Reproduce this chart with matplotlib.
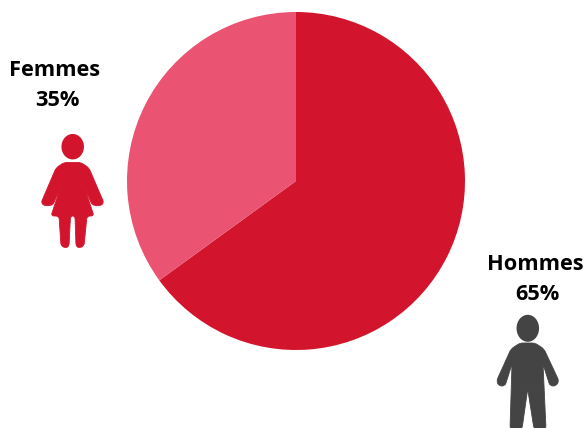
import math

import matplotlib
matplotlib.use("Agg")
import matplotlib.pyplot as plt
from matplotlib.patches import Ellipse, PathPatch
from matplotlib.path import Path

labels = ["Hommes", "Femmes"]
shares = [65, 35]
colors = ["#D2152D", "#EA5472"]

W, H = 585, 428
fig = plt.figure(figsize=(W / 100, H / 100), dpi=100)

# pie axes placed in pixels: centre 296,181 radius 169
cx, cy, r = 296, 181, 169
ax = fig.add_axes([(cx - r) / W, 1 - (cy + r) / H, 2 * r / W, 2 * r / H])
ax.pie(shares, colors=colors, startangle=90, counterclock=False, radius=1,
       wedgeprops=dict(linewidth=0))
ax.set_xlim(-1, 1)
ax.set_ylim(-1, 1)

# overlay in image pixels for the people and the labels
ov = fig.add_axes([0, 0, 1, 1])
ov.set_xlim(0, W)
ov.set_ylim(H, 0)
ov.axis("off")


def corner(p, q, rad):
    d = math.dist(p, q)
    t = min(rad, d / 2) / d
    return (p[0] + (q[0] - p[0]) * t, p[1] + (q[1] - p[1]) * t)


def smooth(pts, color, rad=3.0):
    # closed outline, each corner rounded over at most rad pixels
    verts, codes = [], []
    n = len(pts)
    for i in range(n):
        p0, p1, p2 = pts[i - 1], pts[i], pts[(i + 1) % n]
        verts += [corner(p1, p0, rad), p1, corner(p1, p2, rad)]
        codes += [Path.MOVETO if i == 0 else Path.LINETO, Path.CURVE3, Path.CURVE3]
    verts.append(verts[0])
    codes.append(Path.CLOSEPOLY)
    ov.add_patch(PathPatch(Path(verts, codes), fc=color, ec=color, lw=0.6, joinstyle="round"))


woman = [(64, 162.5), (81, 162.5), (89, 168), (104, 203), (100, 206), (92, 205), (83, 183),
         (94, 216), (87, 216), (84, 246), (79, 248), (76, 246), (75, 216), (70.5, 216),
         (69, 246), (66, 248), (61, 246), (59, 216), (51, 216), (62, 183), (53, 205),
         (45, 206), (41, 203), (56, 168)]
smooth(woman, "#D2152D")
ov.add_patch(Ellipse((72.7, 146.7), 22.5, 25.5, fc="#D2152D", ec="none"))

man = [(520, 343), (535, 343), (544, 349), (559, 381), (556, 386), (550, 386), (543, 364),
       (546, 429), (534, 429), (527.7, 389), (522, 429), (510, 429), (512, 364), (505, 386),
       (499, 386), (496.5, 381), (511, 349)]
smooth(man, "#454444")
ov.add_patch(Ellipse((527.8, 328.3), 22.5, 27, fc="#454444", ec="none"))

font = dict(family="Open Sans", fontweight="bold", fontsize=15.7, color="black",
            ha="center", va="center")
ov.text(54.5, 70, labels[1], **font)
ov.text(57, 100, f"{shares[1]}%", **font)
ov.text(535, 264, labels[0], **font)
ov.text(537, 294, f"{shares[0]}%", **font)

fig.savefig("out.png", dpi=100)
